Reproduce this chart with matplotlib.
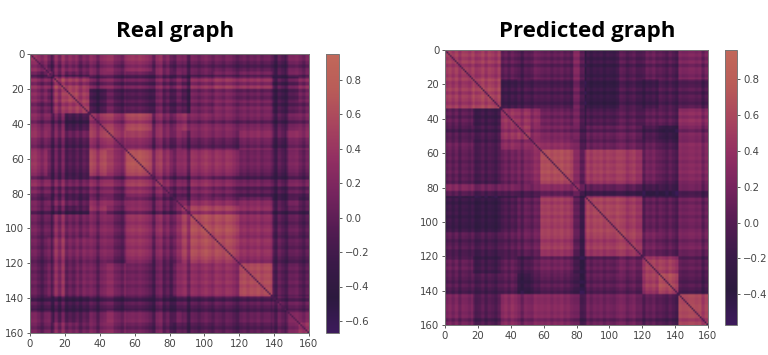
import numpy as np
import matplotlib
matplotlib.use("Agg")
import matplotlib.pyplot as plt
from matplotlib.colors import LinearSegmentedColormap

titles = ["Real graph", "Predicted graph"]
ticks = [0, 20, 40, 60, 80, 100, 120, 140, 160]
cbar_ticks_left = [-0.6, -0.4, -0.2, 0.0, 0.2, 0.4, 0.6, 0.8]
cbar_ticks_right = [-0.4, -0.2, 0.0, 0.2, 0.4, 0.6, 0.8]
range_left = (-0.67, 0.95)
range_right = (-0.57, 0.96)

edges_left = [0, 10, 13, 20, 27, 34, 44, 55, 70, 82, 87, 92, 105, 120, 139, 147, 154, 160]
upper_left = [
    [.3, .0, .2, .25, .15, .2, .2, .25, .2, .1, .05, .05, .05, .0, -.05, .1, .1],
    [.15, .05, .0, .0, .1, .05, -.05, .1, .05, -.05, -.05, .05, .05, -.1, .05, .05],
    [.4, .4, .35, .05, .05, -.05, .1, .15, -.05, .2, .3, .25, -.1, -.05, .2],
    [.6, .5, -.2, -.05, -.15, .05, .05, -.15, .1, .15, .05, -.15, -.1, .15],
    [.55, -.15, .0, -.1, .05, .0, -.1, .1, .2, .15, -.1, -.05, .1],
    [.35, .35, .45, .2, .25, .3, .15, .15, .1, -.05, .05, .15],
    [.35, .25, .15, .15, .05, .05, .05, .15, -.05, .15, .15],
    [.5, .3, .15, .15, .25, .25, .0, -.1, .05, .0],
    [.25, .1, .05, .2, .15, .0, -.05, .05, .05],
    [.15, .15, .25, .25, .2, -.05, .05, -.05],
    [.35, .45, .45, .25, -.05, -.05, -.1],
    [.55, .55, .25, -.05, -.05, -.1],
    [.55, .3, .0, -.05, -.05],
    [.55, .0, .0, -.05],
    [.1, .05, .05],
    [.15, .15],
    [.4],
]
stripes_left = [
    .04, .07, -.04, -.16, .0, .08, -.2, .11, -.13, .15,
    -.1, .03, -.08, .04, -.13, .03, -.05, .07, .0, -.18,
    .03, .08, .13, .13, -.03, -.07, -.16, .05, .08, .11,
    .07, .13, .08, .03, -.04, -.22, .07, .13, -.13, .0,
    -.19, -.16, .05, .03, .08, -.2, .07, .04, -.04, .05,
    .11, .03, -.05, .07, .03, -.04, .07, .04, -.04, -.13,
    .0, .05, -.04, .04, .0, .07, -.03, .04, .05, -.04,
    -.22, .03, -.08, -.18, .04, .03, .07, .0, -.1, .04,
]

edges_right = [0, 17, 34, 44, 52, 58, 78, 85, 106, 120, 130, 142, 160]
upper_right = [
    [.45, .45, .05, -.05, .1, .0, .2, -.2, -.05, .05, .0, .15],
    [.55, -.15, -.1, -.05, -.1, .1, -.25, -.1, -.15, -.05, -.05],
    [.45, .4, .35, .1, .15, -.05, .0, .05, .05, .3],
    [.45, .3, .15, .1, .05, .05, -.1, -.25, .15],
    [.4, .3, .15, .1, .1, .05, -.05, .25],
    [.55, .2, .45, .4, .1, .0, .2],
    [.25, .0, -.05, -.2, -.2, .05],
    [.55, .45, .05, .05, .1],
    [.45, .1, .05, .1],
    [.5, .5, .0],
    [.65, -.05],
    [.5],
]
stripes_right = [
    .0, .07, -.03, .08, -.08, .05, .03, -.04, .07, -.07,
    -.03, .07, -.07, .05, .0, -.08, .05, -.05, .03, -.07,
    .05, -.03, .04, -.1, .07, .03, -.09, .04, .0, .07,
    .04, .08, .0, .07, .03, .09, .0, .05, -.04, .07,
    .07, -.2, -.18, .04, -.05, .04, .0, .05, -.04, .04,
    .0, -.03, .05, .1, .07, -.04, .03, .08, -.04, -.03,
    -.1, .05, .0, .07, -.04, .05, .0, -.07, .04, -.05,
    -.13, .07, .03, .04, .08, .08, .03, .07, -.1, .03,
]

diagonal_value = -0.1

cmap_colors = ["#3d1a5c", "#2c1a3e", "#3a1a48", "#541c52", "#76245e", "#922f62", "#a8455e", "#b95c58", "#c2685a"]
cmap = LinearSegmentedColormap.from_list("faded_rocket", cmap_colors)


def build(edges, upper, stripes):
    k = len(edges) - 1
    b = np.zeros((k, k))
    for i, row in enumerate(upper):
        for off, v in enumerate(row):
            b[i, i + off] = b[i + off, i] = v
    sizes = np.diff(edges)
    m = np.repeat(np.repeat(b, sizes, axis=0), sizes, axis=1)
    s = np.repeat(stripes, 2)
    m = m + s[:, None] + s[None, :]
    np.fill_diagonal(m, diagonal_value)
    return m


W, H = 768, 355
fig = plt.figure(figsize=(W / 100, H / 100), dpi=100)


def rect(x0, y0, x1, y1):
    return [x0 / W, 1 - y1 / H, (x1 - x0) / W, (y1 - y0) / H]


panels = [
    (build(edges_left, upper_left, stripes_left), range_left, cbar_ticks_left,
     rect(30, 54, 309, 333), rect(326, 54, 339, 333), titles[0], 175.5, 31),
    (build(edges_right, upper_right, stripes_right), range_right, cbar_ticks_right,
     rect(445, 50, 708, 325), rect(725, 50, 737, 325), titles[1], 587, 31),
]
grey = "#444444"
for m, (vmin, vmax), cticks, rc, rb, title, tx, ty in panels:
    ax = fig.add_axes(rc)
    im = ax.imshow(m, cmap=cmap, vmin=vmin, vmax=vmax, aspect="auto",
                   interpolation="bilinear", extent=(0, 160, 160, 0))
    ax.set_xticks(ticks)
    ax.set_yticks(ticks)
    ax.tick_params(labelsize=7.3, length=2.5, width=0.6, pad=1.5, colors=grey)
    for s in ax.spines.values():
        s.set_color("#777777")
        s.set_linewidth(0.7)
    cax = fig.add_axes(rb)
    cb = fig.colorbar(im, cax=cax, ticks=cticks)
    cb.ax.tick_params(labelsize=7.3, length=2.5, width=0.6, pad=2, colors=grey)
    cb.outline.set_edgecolor("#777777")
    cb.outline.set_linewidth(0.7)
    fig.text(tx / W, 1 - ty / H, title, ha="center", va="center",
             fontsize=16, fontweight="bold", family="Open Sans", color="black")

fig.savefig("out.png", dpi=100)
